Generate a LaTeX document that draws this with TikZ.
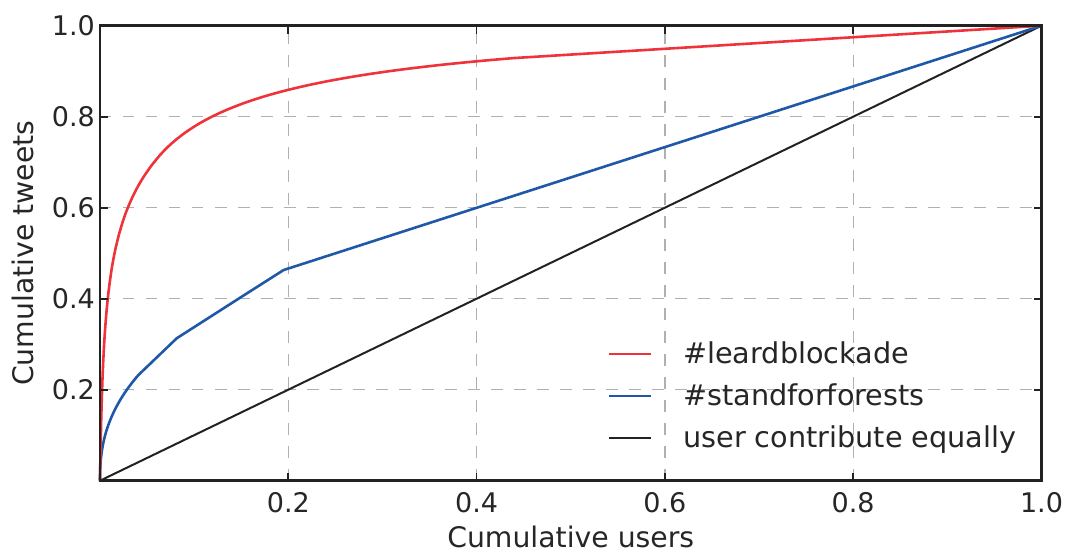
\documentclass[tikz,border=0pt]{standalone}
\usepackage{fontspec}
\setmainfont{DejaVu Sans}
\definecolor{cred}{RGB}{238,52,58}
\definecolor{cblue}{RGB}{32,88,168}
\definecolor{axcol}{RGB}{34,34,34}
\definecolor{txtcol}{RGB}{38,38,38}
\definecolor{gridgray}{RGB}{176,176,176}
\begin{document}
\begin{tikzpicture}[x=941.5pt,y=455pt,
  gridline/.style={draw=gridgray, line width=1.4pt, dash pattern=on 11.5pt off 11.5pt},
  redc/.style={draw=cred, line width=2.6pt, line join=round},
  bluec/.style={draw=cblue, line width=2.6pt, line join=round},
  eqc/.style={draw=axcol, line width=2pt},
  tickmark/.style={draw=axcol, line width=1.8pt},
  frame/.style={draw=axcol, line width=2.4pt},
  ticklab/.style={inner sep=0pt, text=txtcol, font=\fontsize{27}{32}\selectfont},
  leglab/.style={inner sep=0pt, text=txtcol, font=\fontsize{28.7}{33}\selectfont, anchor=base west},
  axlab/.style={inner sep=0pt, text=txtcol, font=\fontsize{28.3}{33}\selectfont, anchor=base}]
\useasboundingbox (-100pt,-71.3pt) rectangle (972pt,480.7pt);
% grid
\foreach \v in {0.2,0.4,0.6,0.8} {
  \draw[gridline] (\v,0) -- (\v,1);
  \draw[gridline] (0,\v) -- (1,\v);
}
% equal line
\draw[eqc] (0,0) -- (1,1);
% blue curve
\draw[bluec] (0,0) -- plot[domain=0.01:1, samples=60, variable=\s] ({0.0407*(\s^2.381)}, {0.232*\s})
  -- (0.0815,0.313) -- (0.1487,0.402) -- (0.195,0.463) -- (1,1);
% red curve
\draw[redc] plot[domain=0:0.713, samples=90, variable=\t] ({exp(7*\t-7.811)+0.005*\t-0.0004}, {\t})
  -- plot[domain=-2.769:-0.82, samples=60, variable=\u] ({exp(\u)}, {0.859+0.10367*(\u+1.61)-0.01907*(\u+1.61)*(\u+1.61)})
  -- (1,1);
% ticks
\foreach \v in {0.2,0.4,0.6,0.8} {
  \draw[tickmark] (\v,0) -- ++(0,8pt);
  \draw[tickmark] (\v,1) -- ++(0,-8pt);
  \draw[tickmark] (0,\v) -- ++(8pt,0);
  \draw[tickmark] (1,\v) -- ++(-8pt,0);
}
% frame
\draw[frame] (0,0) rectangle (1,1);
% tick labels
\foreach \v/\n in {0.2/a,0.4/b,0.6/c,0.8/d,1.0/e} {
  \node[ticklab, anchor=east] (yl\n) at ([xshift=-5pt]0,\v) {\v};
  \node[ticklab, anchor=north] (xl\n) at ([yshift=-11.5pt]\v,0) {\v};
}
% axis labels
\node[axlab] (xlabel) at (470.75pt,-66.4pt) {Cumulative users};
\node[axlab, rotate=90] (ylabel) at (-66.7pt,227.5pt) {Cumulative tweets};
% legend
\coordinate (lr1) at (509pt,126.7pt); \coordinate (lr2) at (551pt,126.7pt);
\coordinate (lb1) at (509pt,84.7pt);  \coordinate (lb2) at (551pt,84.7pt);
\coordinate (lk1) at (509pt,42.7pt);  \coordinate (lk2) at (551pt,42.7pt);
\draw[redc, line width=2pt] (lr1) -- (lr2);
\draw[bluec, line width=2pt] (lb1) -- (lb2);
\draw[eqc] (lk1) -- (lk2);
\node[leglab] (leg1) at (583pt,117.4pt) {\#leardblockade};
\node[leglab] (leg2) at (583pt,75.2pt) {\#standforforests};
\node[leglab] (leg3) at (583pt,33.2pt) {user contribute equally};
\end{tikzpicture}
\end{document}
